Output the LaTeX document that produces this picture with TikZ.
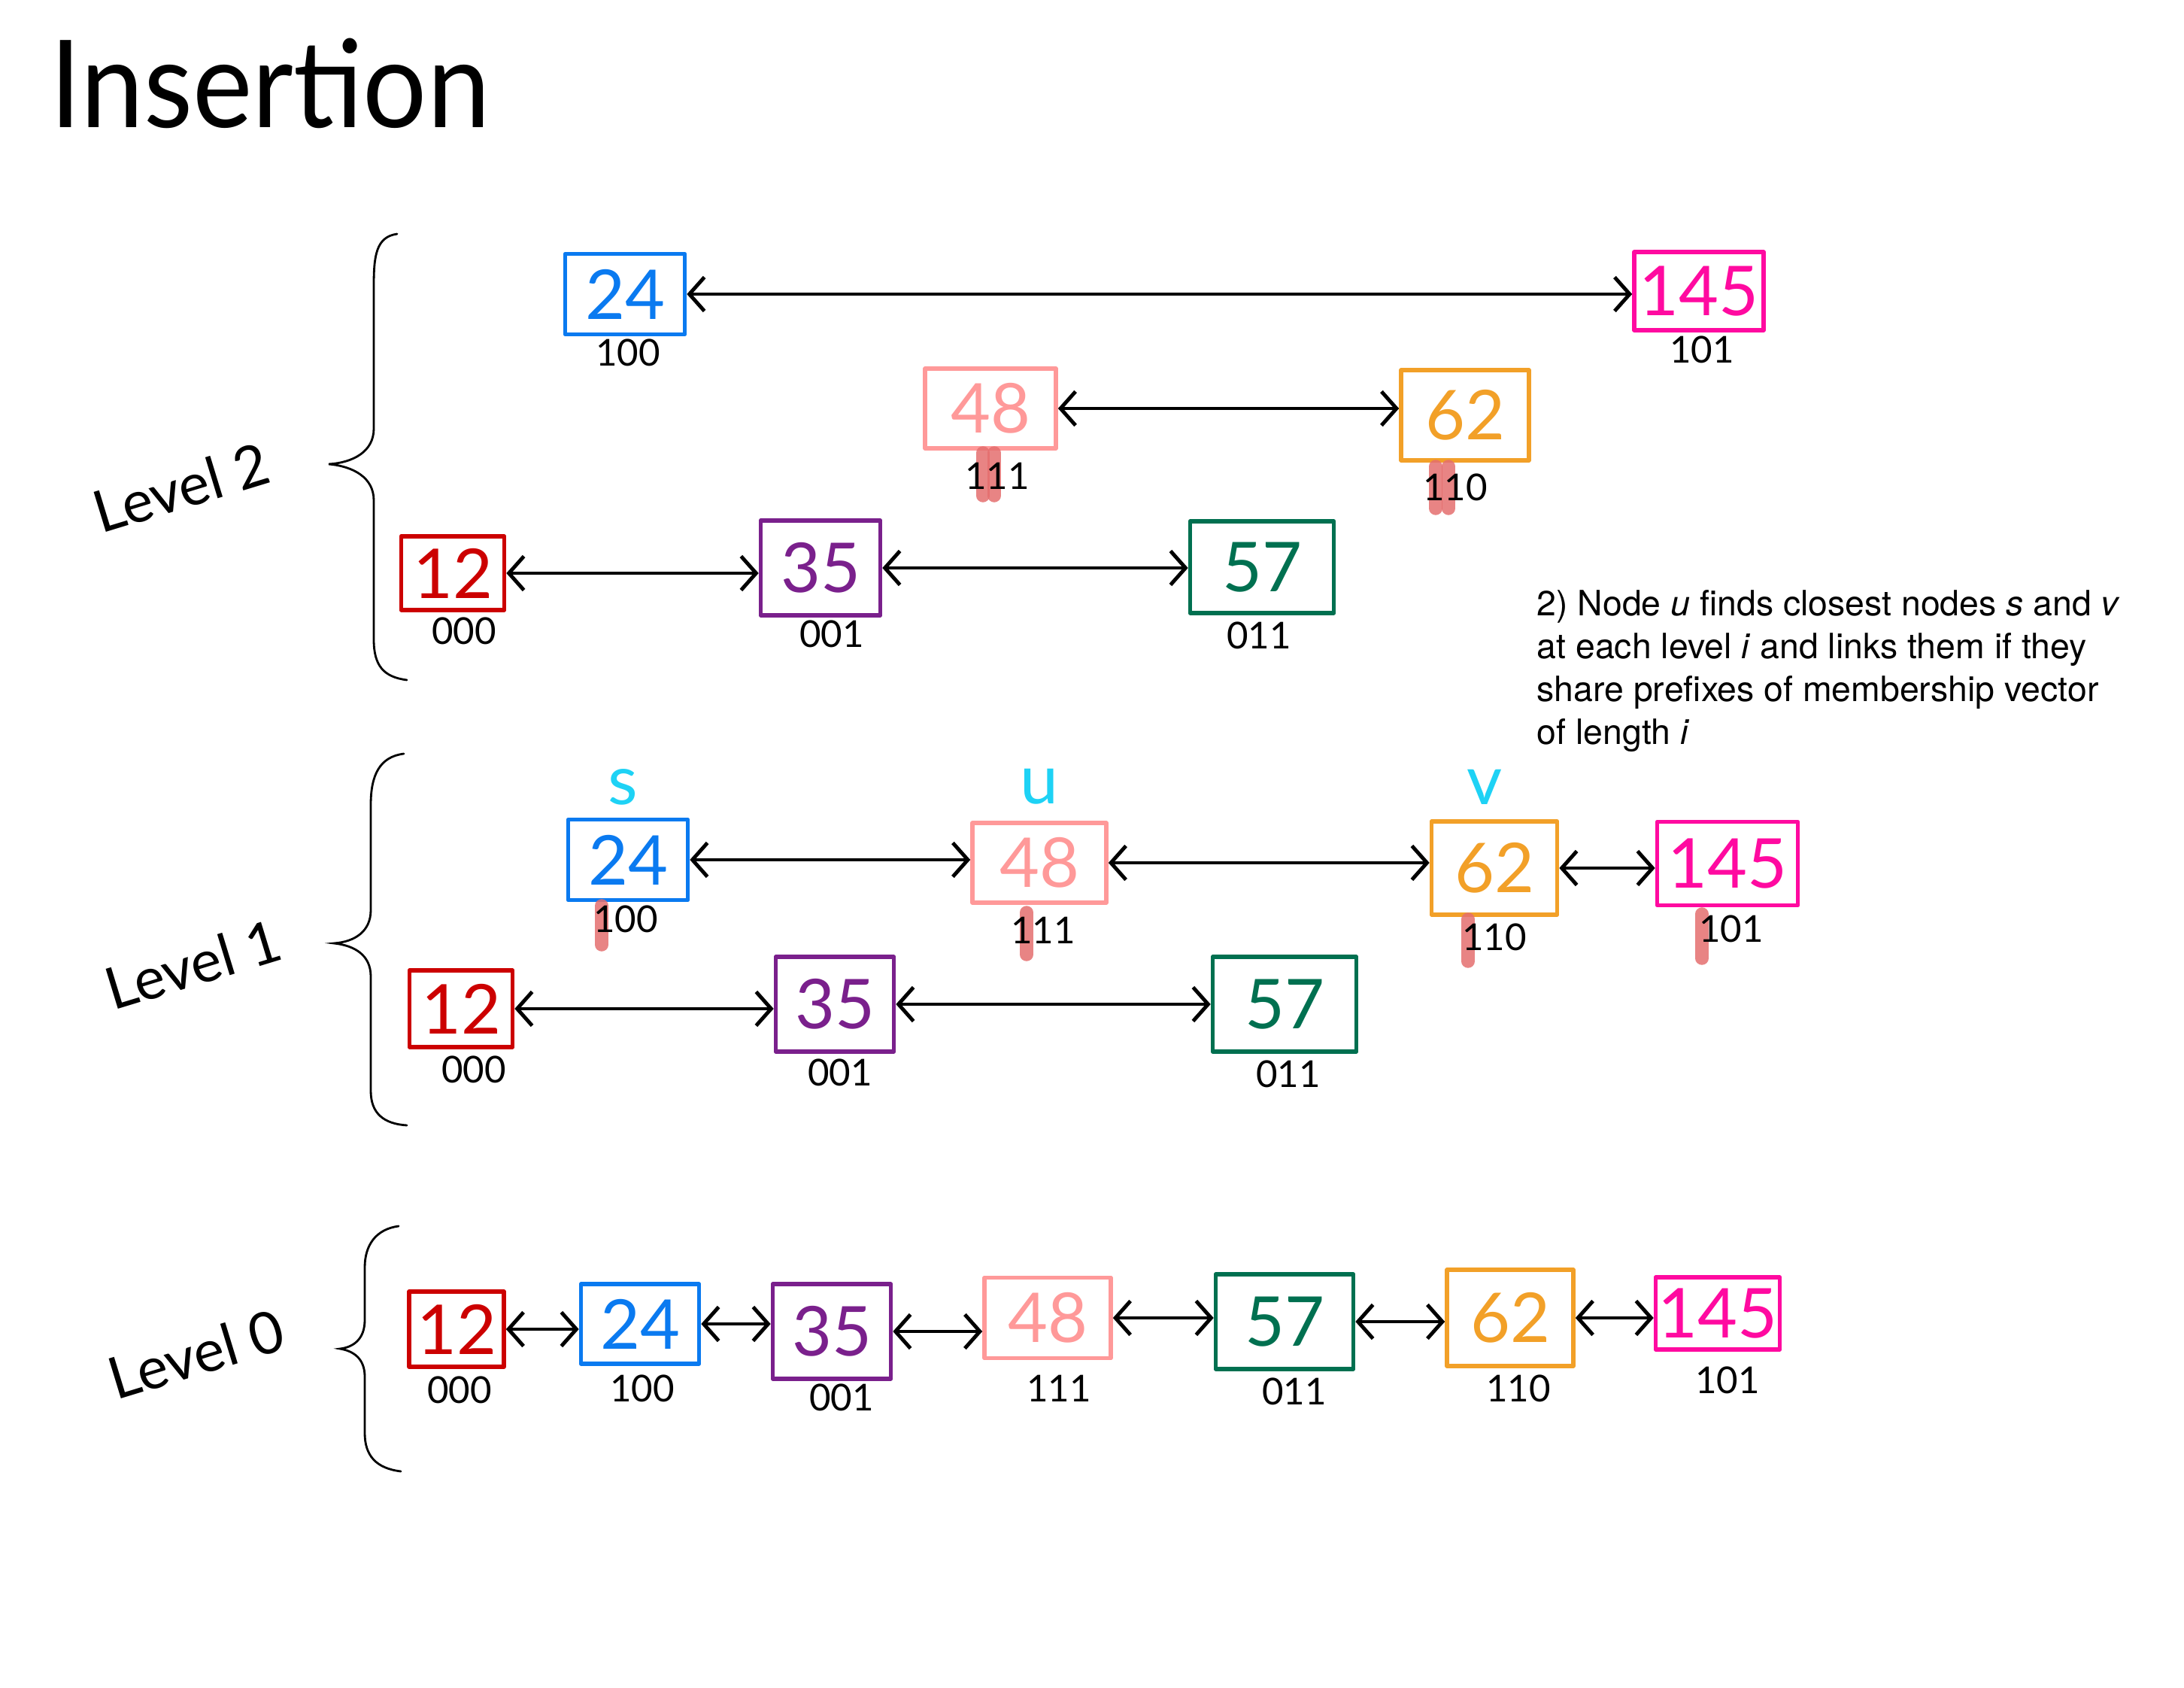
\documentclass[tikz,border=0pt]{standalone}
\usepackage{fontspec}
\setmainfont{Lato}
\newfontfamily\notefont{TeX Gyre Heros}
\usetikzlibrary{arrows.meta}
\definecolor{c12}{RGB}{204,0,0}
\definecolor{c24}{RGB}{10,122,240}
\definecolor{c35}{RGB}{122,32,140}
\definecolor{c48}{RGB}{255,153,153}
\definecolor{c57}{RGB}{0,112,80}
\definecolor{c62}{RGB}{242,160,40}
\definecolor{c145}{RGB}{255,10,160}
\definecolor{hilitecol}{RGB}{228,110,110}
\definecolor{tagcol}{RGB}{30,210,245}
\begin{document}
\begin{tikzpicture}[
  key/.style={draw=#1, text=#1, line width=1.6pt, line join=round, inner sep=0pt,
    font=\fontsize{26}{28}\selectfont},
  bits/.style={inner sep=0pt, font=\fontsize{14}{16}\selectfont},
  tag/.style={text=tagcol, inner sep=0pt, font=\fontsize{26}{28}\selectfont},
  link/.style={draw, {Straight Barb[length=2mm,width=4.5mm]}-{Straight Barb[length=2mm,width=4.5mm]}, line width=1.4pt},
  hilite/.style={draw=hilitecol, opacity=0.85, line width=5pt, line cap=round},
  brace/.style={draw, line width=0.8pt, line cap=round},
  levelname/.style={inner sep=0pt, rotate=17, font=\fontsize{22}{24}\selectfont}
]
\useasboundingbox (0,0) rectangle (29.04,-22.44);
% Title and note
\node[inner sep=0pt, font=\fontsize{46}{50}\selectfont, xscale=0.93, transform shape] (title) at (3.59,-1.11) {Insertion};
\node[inner sep=0pt, anchor=north west, align=left, font=\notefont\fontsize{13.2}{16.2}\selectfont] (note) at (20.43,-7.84)
  {2) Node \textit{u} finds closest nodes \textit{s} and \textit{v}\\
   at each level \textit{i} and links them if they\\
   share prefixes of membership vector\\
   of length \textit{i}};
% Level names and braces
\node[levelname] (lv2) at (2.41,-6.48) {Level 2};
\node[levelname] (lv1) at (2.57,-12.82) {Level 1};
\node[levelname] (lv0) at (2.61,-18.00) {Level 0};
\draw[brace] (5.28,-3.11) .. controls (5.00,-3.15) and (4.97,-3.40) .. (4.97,-3.80) -- (4.97,-5.70)
  .. controls (4.97,-6.00) and (4.70,-6.15) .. (4.37,-6.17) .. controls (4.70,-6.20) and (4.97,-6.35) .. (4.97,-6.65)
  -- (4.97,-8.50) .. controls (4.97,-8.85) and (5.10,-9.00) .. (5.41,-9.04);
\draw[brace] (5.37,-10.02) .. controls (5.05,-10.06) and (4.93,-10.30) .. (4.93,-10.70) -- (4.93,-12.10)
  .. controls (4.93,-12.38) and (4.72,-12.52) .. (4.44,-12.54) .. controls (4.72,-12.57) and (4.93,-12.70) .. (4.93,-12.98)
  -- (4.93,-14.50) .. controls (4.93,-14.80) and (5.10,-14.94) .. (5.41,-14.96);
\draw[brace] (5.30,-16.30) .. controls (5.00,-16.34) and (4.85,-16.55) .. (4.85,-16.85) -- (4.85,-17.55)
  .. controls (4.85,-17.80) and (4.70,-17.91) .. (4.52,-17.93) .. controls (4.70,-17.96) and (4.85,-18.06) .. (4.85,-18.30)
  -- (4.85,-19.05) .. controls (4.85,-19.35) and (5.00,-19.52) .. (5.33,-19.56);
% Level 2
\node[key=c24, minimum width=1.59cm, minimum height=1.07cm] (l2b) at (8.31,-3.91) {24};
\node[key=c145, minimum width=1.72cm, minimum height=1.04cm] (l2g) at (22.59,-3.87) {145};
\node[key=c48, minimum width=1.74cm, minimum height=1.06cm] (l2d) at (13.17,-5.43) {48};
\node[key=c62, minimum width=1.70cm, minimum height=1.20cm] (l2f) at (19.48,-5.52) {62};
\node[key=c12, minimum width=1.37cm, minimum height=0.98cm] (l2a) at (6.02,-7.62) {12};
\node[key=c35, minimum width=1.59cm, minimum height=1.26cm] (l2c) at (10.91,-7.55) {35};
\node[key=c57, minimum width=1.91cm, minimum height=1.22cm] (l2e) at (16.78,-7.54) {57};
\draw[hilite] (13.07,-6.02) -- (13.07,-6.59);
\draw[hilite] (13.22,-6.02) -- (13.22,-6.59);
\draw[hilite] (19.09,-6.20) -- (19.09,-6.76);
\draw[hilite] (19.26,-6.20) -- (19.26,-6.76);
\node[bits] (v2b) at (8.35,-4.69) {100};
\node[bits] (v2g) at (22.63,-4.65) {101};
\node[bits] (v2d) at (13.26,-6.33) {111};
\node[bits] (v2f) at (19.35,-6.48) {110};
\node[bits] (v2a) at (6.17,-8.39) {000};
\node[bits] (v2c) at (11.06,-8.43) {001};
\node[bits] (v2e) at (16.74,-8.45) {011};
\path[link] (l2b.east) -- (l2b.east -| l2g.west);
\path[link] (l2d.east) -- (l2d.east -| l2f.west);
\path[link] (l2a.east) -- (l2a.east -| l2c.west);
\path[link] (l2c.east) -- (l2c.east -| l2e.west);
% Level 1
\node[tag] (tags) at (8.28,-10.46) {s};
\node[tag] (tagu) at (13.82,-10.46) {u};
\node[tag] (tagv) at (19.74,-10.46) {v};
\node[key=c24, minimum width=1.59cm, minimum height=1.07cm] (l1b) at (8.35,-11.43) {24};
\node[key=c48, minimum width=1.78cm, minimum height=1.06cm] (l1d) at (13.82,-11.47) {48};
\node[key=c62, minimum width=1.67cm, minimum height=1.24cm] (l1f) at (19.87,-11.54) {62};
\node[key=c145, minimum width=1.87cm, minimum height=1.11cm] (l1g) at (22.97,-11.48) {145};
\node[key=c12, minimum width=1.37cm, minimum height=1.02cm] (l1a) at (6.13,-13.41) {12};
\node[key=c35, minimum width=1.57cm, minimum height=1.26cm] (l1c) at (11.10,-13.35) {35};
\node[key=c57, minimum width=1.91cm, minimum height=1.26cm] (l1e) at (17.08,-13.35) {57};
\draw[hilite] (8.00,-12.04) -- (8.00,-12.56);
\draw[hilite] (13.65,-12.13) -- (13.65,-12.69);
\draw[hilite] (19.52,-12.22) -- (19.52,-12.78);
\draw[hilite] (22.63,-12.15) -- (22.63,-12.74);
\node[bits] (v1b) at (8.32,-12.22) {100};
\node[bits] (v1d) at (13.87,-12.37) {111};
\node[bits] (v1f) at (19.87,-12.46) {110};
\node[bits] (v1g) at (23.02,-12.35) {101};
\node[bits] (v1a) at (6.30,-14.22) {000};
\node[bits] (v1c) at (11.17,-14.26) {001};
\node[bits] (v1e) at (17.13,-14.28) {011};
\path[link] (l1b.east) -- (l1b.east -| l1d.west);
\path[link] (l1d.east) -- (l1d.east -| l1f.west);
\path[link] (l1f.east) -- (l1f.east -| l1g.west);
\path[link] (l1a.east) -- (l1a.east -| l1c.west);
\path[link] (l1c.east) -- (l1c.east -| l1e.west);
% Level 0
\node[key=c12, minimum width=1.26cm, minimum height=1.00cm] (l0a) at (6.07,-17.67) {12};
\node[key=c24, minimum width=1.57cm, minimum height=1.06cm] (l0b) at (8.51,-17.60) {24};
\node[key=c35, minimum width=1.57cm, minimum height=1.26cm] (l0c) at (11.06,-17.70) {35};
\node[key=c48, minimum width=1.68cm, minimum height=1.07cm] (l0d) at (13.93,-17.52) {48};
\node[key=c57, minimum width=1.83cm, minimum height=1.26cm] (l0e) at (17.08,-17.57) {57};
\node[key=c62, minimum width=1.68cm, minimum height=1.28cm] (l0f) at (20.08,-17.52) {62};
\node[key=c145, minimum width=1.65cm, minimum height=0.96cm] (l0g) at (22.84,-17.46) {145};
\node[bits] (v0a) at (6.11,-18.48) {000};
\node[bits] (v0b) at (8.54,-18.46) {100};
\node[bits] (v0c) at (11.19,-18.58) {001};
\node[bits] (v0d) at (14.08,-18.46) {111};
\node[bits] (v0e) at (17.21,-18.50) {011};
\node[bits] (v0f) at (20.19,-18.46) {110};
\node[bits] (v0g) at (22.97,-18.35) {101};
\path[link] (l0a.east) -- (l0a.east -| l0b.west);
\path[link] (l0b.east) -- (l0b.east -| l0c.west);
\path[link] (l0c.east) -- (l0c.east -| l0d.west);
\path[link] (l0d.east) -- (l0d.east -| l0e.west);
\path[link] (l0e.east) -- (l0e.east -| l0f.west);
\path[link] (l0f.east) -- (l0f.east -| l0g.west);
\end{tikzpicture}
\end{document}
